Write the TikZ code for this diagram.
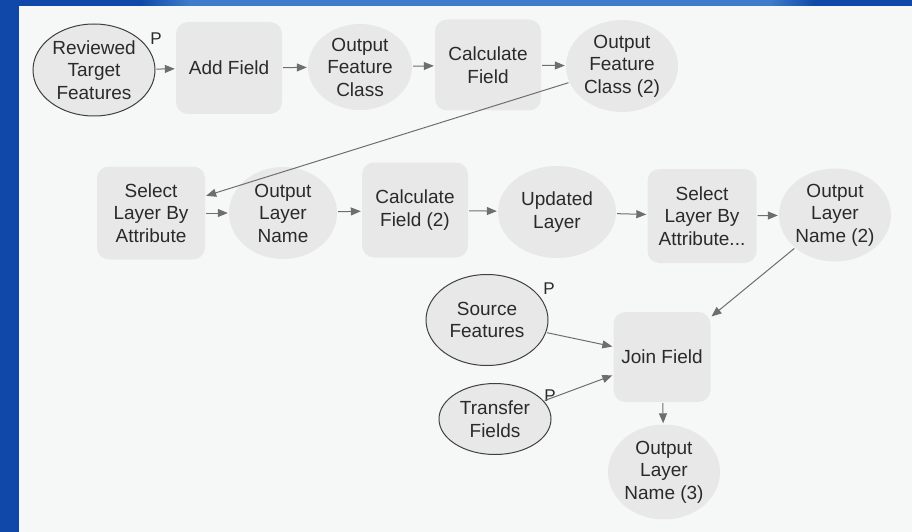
\documentclass[tikz,border=0pt]{standalone}
\usepackage{fontspec}
\setmainfont{Liberation Sans}
\usetikzlibrary{shapes.geometric,arrows.meta}
\definecolor{frameblue}{HTML}{0F48A8}
\definecolor{framelight}{HTML}{3E7CCB}
\definecolor{canvas}{HTML}{F6F8F8}
\definecolor{nodefill}{HTML}{E8E8E8}
\definecolor{edgegray}{HTML}{6E6E6E}
\definecolor{txt}{HTML}{2A2A2A}
\tikzset{
  base/.style={fill=nodefill, text=txt, align=center, inner sep=0pt,
    font=\fontsize{19}{22.5}\selectfont},
  tool/.style={base, rectangle, rounded corners=12pt},
  data/.style={base, ellipse},
  param/.style={data, draw=black!75, line width=1pt},
  plabel/.style={text=txt, font=\fontsize{17}{17}\selectfont, inner sep=0pt},
  flow/.style={draw=edgegray, line width=1pt,
    -{Triangle[length=10pt,width=8pt]}, shorten <=1pt, shorten >=1pt}
}
\begin{document}
\begin{tikzpicture}[x=1pt,y=-1pt]
  % window frame and canvas
  \useasboundingbox (0,0) rectangle (912,532);
  \fill[canvas] (0,0) rectangle (912,532);
  \fill[frameblue] (0,0) rectangle (18.5,532);
  \fill[framelight] (190,0) rectangle (770,6);
  \shade[left color=frameblue, right color=framelight] (18.5,0) rectangle (190,6);
  \shade[left color=framelight, right color=frameblue] (770,0) rectangle (912,6);
  \fill[frameblue] (18.5,0) rectangle (140,6);
  \shade[left color=frameblue, right color=framelight] (140,0) rectangle (190,6);
  \fill[frameblue] (815,0) rectangle (912,6);
  \shade[left color=framelight, right color=frameblue] (770,0) rectangle (815,6);

  % first row
  \node[param, minimum width=122pt, minimum height=92pt] (rtf) at (94,70)
    {Reviewed\\Target\\Features};
  \node[tool, minimum width=106pt, minimum height=92pt] (add) at (229,68) {Add Field};
  \node[data, minimum width=104pt, minimum height=86pt] (ofc) at (360,67)
    {Output\\Feature\\Class};
  \node[tool, minimum width=106pt, minimum height=91pt] (calc) at (488,65)
    {Calculate\\Field};
  \node[data, minimum width=112pt, minimum height=92pt] (ofc2) at (622,66)
    {Output\\Feature\\Class (2)};

  % second row
  \node[tool, minimum width=108pt, minimum height=93pt] (sel) at (151,213)
    {Select\\Layer By\\Attribute};
  \node[data, minimum width=108pt, minimum height=92pt] (oln) at (283,213)
    {Output\\Layer\\Name};
  \node[tool, minimum width=106pt, minimum height=95pt] (calc2) at (415,210)
    {Calculate\\Field (2)};
  \node[data, minimum width=118pt, minimum height=92pt] (upd) at (557,212)
    {Updated\\Layer};
  \node[tool, minimum width=109pt, minimum height=94pt] (sel2) at (702,216)
    {Select\\Layer By\\Attribute...};
  \node[data, minimum width=112pt, minimum height=93pt] (oln2) at (835,215)
    {Output\\Layer\\Name (2)};

  % join section
  \node[param, minimum width=122pt, minimum height=91pt] (src) at (487,320)
    {Source\\Features};
  \node[tool, minimum width=97pt, minimum height=90pt] (join) at (662,357)
    {Join Field};
  \node[param, minimum width=112pt, minimum height=71pt] (tf) at (495,419)
    {Transfer\\Fields};
  \node[data, minimum width=112pt, minimum height=95pt] (oln3) at (664,472)
    {Output\\Layer\\Name (3)};

  % parameter markers
  \node[plabel] (p1) at (156,39) {P};
  \node[plabel] (p2) at (549,289) {P};
  \node[plabel] (p3) at (550,396) {P};

  % connectors
  \draw[flow] (rtf) -- (add);
  \draw[flow] (add) -- (ofc);
  \draw[flow] (ofc) -- (calc);
  \draw[flow] (calc) -- (ofc2);
  \draw[flow] (ofc2) -- (sel);
  \draw[flow] (sel) -- (oln);
  \draw[flow] (oln) -- (calc2);
  \draw[flow] (calc2) -- (upd);
  \draw[flow] (upd) -- (sel2);
  \draw[flow] (sel2) -- (oln2);
  \draw[flow] (oln2) -- (join);
  \draw[flow] (src) -- (join);
  \draw[flow] (tf) -- (join);
  \draw[flow] (join) -- (oln3);
\end{tikzpicture}
\end{document}
